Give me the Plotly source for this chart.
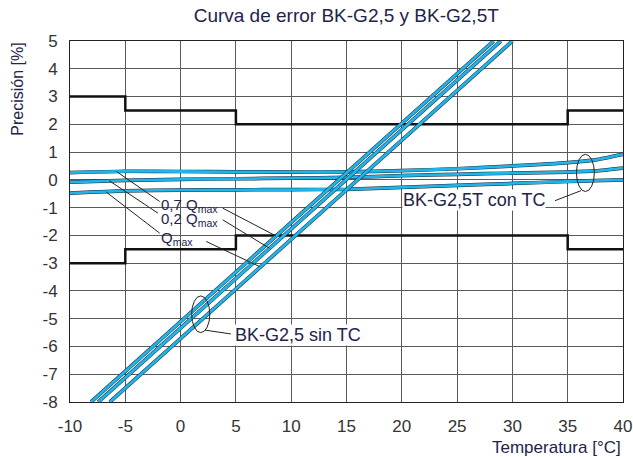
import plotly.graph_objects as go

# ---------------- data ----------------
temp_tc = [-10, -5, 0, 5, 10, 15, 20, 25, 30, 35, 37.5, 40]
tc_07qmax = [0.26, 0.31, 0.30, 0.29, 0.28, 0.29, 0.33, 0.40, 0.50, 0.62, 0.72, 0.92]
tc_02qmax = [-0.08, -0.02, 0.02, 0.04, 0.06, 0.09, 0.15, 0.20, 0.24, 0.28, 0.32, 0.42]
tc_qmax = [-0.48, -0.40, -0.37, -0.36, -0.35, -0.34, -0.27, -0.20, -0.13, -0.06, -0.03, 0.00]

sin_err = [-8, 5]
sin_07qmax_temp = [-8.1, 28.3]
sin_02qmax_temp = [-7.45, 28.95]
sin_qmax_temp = [-6.4, 30.0]

limit_temp = [-10, -5, 5, 35, 40]
limit_upper = [3, 2.5, 2, 2.5, 2.5]
limit_lower = [-3, -2.5, -2, -2.5, -2.5]

x_ticks = [-10, -5, 0, 5, 10, 15, 20, 25, 30, 35, 40]
y_ticks = [5, 4, 3, 2, 1, 0, -1, -2, -3, -4, -5, -6, -7, -8]

# ---------------- style ----------------
CYAN = "#20b4e8"
DARK = "#1b2a3a"
TXT = "#23234a"
FONT = "Liberation Sans"

fig = go.Figure()

for ys in (limit_upper, limit_lower):
    fig.add_trace(go.Scatter(x=limit_temp, y=ys, mode="lines", line_shape="hv",
                             line=dict(color="#111111", width=2.5), hoverinfo="skip"))

def add_curve(x, y):
    fig.add_trace(go.Scatter(x=x, y=y, mode="lines", line_shape="spline",
                             line=dict(color=DARK, width=3.7, smoothing=0.6), hoverinfo="skip"))
    fig.add_trace(go.Scatter(x=x, y=y, mode="lines", line_shape="spline",
                             line=dict(color=CYAN, width=2.8, smoothing=0.6), hoverinfo="skip"))

for ys in (tc_07qmax, tc_02qmax, tc_qmax):
    add_curve(temp_tc, ys)
for xs in (sin_07qmax_temp, sin_02qmax_temp, sin_qmax_temp):
    add_curve(xs, sin_err)

# annotation geometry (leader lines & ellipses)
leaders = [
    ((-1.89, -0.78), (-5.79, 0.30)),
    ((3.81, -1.02), (8.62, -2.02)),
    ((-2.05, -1.20), (-6.46, -0.03)),
    ((3.81, -1.44), (8.02, -2.46)),
    ((-1.89, -1.92), (-6.76, -0.43)),
    ((2.32, -2.22), (7.12, -3.12)),
    ((36.2, -0.39), (33.85, -0.75)),
    ((2.21, -5.41), (4.55, -5.55)),
]
shapes = []
for (a, b) in leaders:
    shapes.append(dict(type="line", xref="x", yref="y", x0=a[0], y0=a[1], x1=b[0], y1=b[1],
                       line=dict(color="#222222", width=1)))
for (cx, cy, rx, ry) in [(36.6, 0.25, 0.81, 0.67), (1.82, -4.84, 0.82, 0.66)]:
    shapes.append(dict(type="circle", xref="x", yref="y", x0=cx - rx, x1=cx + rx,
                       y0=cy - ry, y1=cy + ry, line=dict(color="#222222", width=1)))

annos = [
    dict(x=-1.9, y=-0.92, text="0,7 Q<sub>max</sub>", font_size=15, bg="rgba(0,0,0,0)"),
    dict(x=-1.9, y=-1.42, text="0,2 Q<sub>max</sub>", font_size=15, bg="rgba(0,0,0,0)"),
    dict(x=-1.9, y=-2.12, text="Q<sub>max</sub>", font_size=15, bg="rgba(0,0,0,0)"),
    dict(x=20.0, y=-0.72, text="BK-G2,5T con TC", font_size=18, bg="white"),
    dict(x=4.8, y=-5.57, text="BK-G2,5 sin TC", font_size=18, bg="white"),
]
annotations = []
for a in annos:
    annotations.append(dict(xref="x", yref="y", x=a["x"], y=a["y"], text=a["text"],
                            xanchor="left", yanchor="middle", showarrow=False,
                            bgcolor=a["bg"], borderpad=0,
                            font=dict(family=FONT, size=a["font_size"], color=TXT)))
annotations.append(dict(xref="paper", yref="paper", x=0, y=0.865, xshift=-52,
                        text="Precisión [%]", textangle=-90, showarrow=False,
                        xanchor="center", yanchor="middle",
                        font=dict(family=FONT, size=16, color=TXT)))
annotations.append(dict(xref="paper", yref="paper", x=1, y=0, yshift=-45,
                        text="Temperatura [°C]", showarrow=False,
                        xanchor="right", yanchor="middle",
                        font=dict(family=FONT, size=17, color=TXT)))

fig.update_layout(
    width=633, height=457,
    margin=dict(l=70, r=10, t=41, b=55, autoexpand=False),
    paper_bgcolor="white", plot_bgcolor="white",
    showlegend=False,
    title=dict(text="Curva de error BK-G2,5 y BK-G2,5T", x=0.547, xanchor="center",
               y=0.967, yanchor="middle", font=dict(family=FONT, size=19, color=TXT)),
    shapes=shapes, annotations=annotations,
    xaxis=dict(range=[-10, 40], tickvals=x_ticks, ticktext=[str(v) for v in x_ticks],
               showgrid=True, gridcolor="#5a5a5a", gridwidth=1, zeroline=False,
               showline=True, linecolor="#222222", linewidth=1, mirror=True, automargin=False,
               ticks="", ticklabelstandoff=9, tickfont=dict(family=FONT, size=17, color="#333333")),
    yaxis=dict(range=[-8, 5], tickvals=y_ticks, ticktext=[str(v) for v in y_ticks],
               showgrid=True, gridcolor="#5a5a5a", gridwidth=1, zeroline=False,
               showline=True, linecolor="#222222", linewidth=1, mirror=True, automargin=False,
               ticks="", ticklabelstandoff=8, tickfont=dict(family=FONT, size=17, color="#333333")),
)

fig.write_html("out.html", config={"displayModeBar": False},
               post_script="document.body.style.margin='0';")
